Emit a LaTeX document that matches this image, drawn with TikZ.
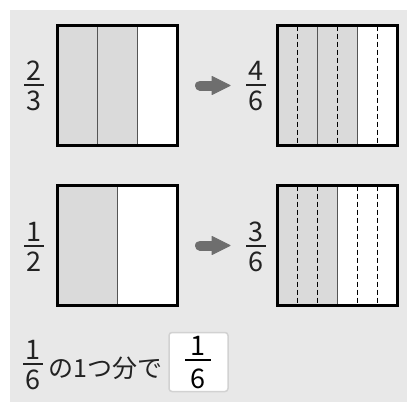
\documentclass[tikz,border=0pt]{standalone}
\usepackage{fontspec}
\setmainfont{Noto Sans CJK JP}
\definecolor{bg}{HTML}{E8E8E8}
\definecolor{cellgray}{HTML}{DADADA}
\definecolor{divider}{HTML}{555555}
\definecolor{arrowgray}{HTML}{6E6E6E}
\definecolor{ink}{HTML}{222222}
\definecolor{boxedge}{HTML}{D2D2D2}
\tikzset{
  digit/.style={inner sep=0pt, anchor=base, font=\fontsize{27}{27}\selectfont, text=ink},
  fracline/.style={line width=1.5pt, draw=ink},
  frame/.style={line width=3pt, draw=black},
  soliddiv/.style={line width=1pt, draw=divider},
  dashdiv/.style={line width=1pt, draw=black, dash pattern=on 5pt off 3pt},
  bigarrow/.style={fill=arrowgray, draw=arrowgray, line width=1pt, line join=round},
  shaft/.style={line width=10pt, line cap=round, draw=arrowgray},
  jp/.style={inner sep=0pt, anchor=base west, font=\fontsize{25}{25}\selectfont, text=ink},
  answerbox/.style={fill=white, draw=boxedge, line width=1.5pt, rounded corners=3pt}
}
\begin{document}
\begin{tikzpicture}[x=1pt,y=-1pt]
\useasboundingbox (0,0) rectangle (407,402);
\fill[bg] (10,10) rectangle (407,402);

% ---------- row 1: 2/3 -> 4/6 ----------
\node[digit] (n1) at (34,80) {2};
\node[digit] (d1) at (34,110) {3};
\draw[fracline] (24,85) -- (44,85);
\fill[cellgray] (57.5,25.5) rectangle (137.5,145.5);
\fill[white] (137.5,25.5) rectangle (177.5,145.5);
\draw[soliddiv] (97.5,25.5) -- (97.5,145.5);
\draw[soliddiv] (137.5,25.5) -- (137.5,145.5);
\draw[frame] (57.5,25.5) rectangle (177.5,145.5);

\coordinate (a1s) at (200,85.5);
\coordinate (a1e) at (215,85.5);
\draw[shaft] (a1s) -- (a1e);
\filldraw[bigarrow] (212,76.5) -- (230,85.5) -- (212,94.5) -- cycle;

\node[digit] (n2) at (256,80) {4};
\node[digit] (d2) at (256,110) {6};
\draw[fracline] (246,85) -- (266,85);
\fill[cellgray] (277.5,25.5) rectangle (357.5,145.5);
\fill[white] (357.5,25.5) rectangle (397.5,145.5);
\draw[dashdiv] (297.5,25.5) -- (297.5,145.5);
\draw[soliddiv] (317.5,25.5) -- (317.5,145.5);
\draw[dashdiv] (337.5,25.5) -- (337.5,145.5);
\draw[soliddiv] (357.5,25.5) -- (357.5,145.5);
\draw[dashdiv] (377.5,25.5) -- (377.5,145.5);
\draw[frame] (277.5,25.5) rectangle (397.5,145.5);

% ---------- row 2: 1/2 -> 3/6 ----------
\node[digit] (n3) at (34,241) {1};
\node[digit] (d3) at (34,271) {2};
\draw[fracline] (24,246) -- (44,246);
\fill[cellgray] (57.5,185.5) rectangle (117.5,305.5);
\fill[white] (117.5,185.5) rectangle (177.5,305.5);
\draw[soliddiv] (117.5,185.5) -- (117.5,305.5);
\draw[frame] (57.5,185.5) rectangle (177.5,305.5);

\coordinate (a2s) at (200,245.5);
\coordinate (a2e) at (215,245.5);
\draw[shaft] (a2s) -- (a2e);
\filldraw[bigarrow] (212,236.5) -- (230,245.5) -- (212,254.5) -- cycle;

\node[digit] (n4) at (256,241) {3};
\node[digit] (d4) at (256,271) {6};
\draw[fracline] (246,246) -- (266,246);
\fill[cellgray] (277.5,185.5) rectangle (337.5,305.5);
\fill[white] (337.5,185.5) rectangle (397.5,305.5);
\draw[dashdiv] (297.5,185.5) -- (297.5,305.5);
\draw[dashdiv] (317.5,185.5) -- (317.5,305.5);
\draw[soliddiv] (337.5,185.5) -- (337.5,305.5);
\draw[dashdiv] (357.5,185.5) -- (357.5,305.5);
\draw[dashdiv] (377.5,185.5) -- (377.5,305.5);
\draw[frame] (277.5,185.5) rectangle (397.5,305.5);

% ---------- bottom line ----------
\node[digit] (n5) at (33,359) {1};
\node[digit] (d5) at (33,389) {6};
\draw[fracline] (23,364) -- (43,364);
\node[jp] (txt) at (48,377) {の1つ分で};
\draw[answerbox] (169,332.5) rectangle (228,391.5);
\node[digit, text=black] (n6) at (198,355) {1};
\node[digit, text=black] (d6) at (198,388) {6};
\draw[fracline, draw=black] (185,360) -- (211,360);
\end{tikzpicture}
\end{document}
